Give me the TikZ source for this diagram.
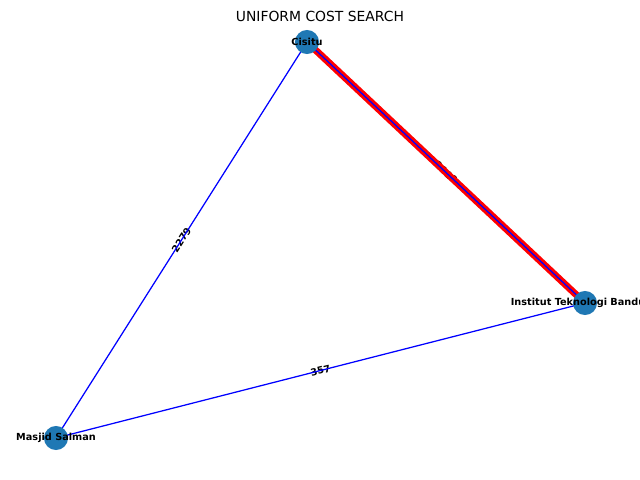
\documentclass[tikz,border=0pt]{standalone}
\usepackage{fontspec}
\setmainfont{DejaVu Sans}
\pgfdeclarelayer{lbl}
\pgfdeclarelayer{edge}
\pgfsetlayers{lbl,edge,main}
\definecolor{nxblue}{HTML}{1F78B4}
\begin{document}
\begin{tikzpicture}[x=0.72pt,y=-0.72pt,
  place/.style={circle,fill=nxblue,draw=none,minimum size=17.3pt,inner sep=0pt},
  nlabel/.style={font=\fontsize{7}{8}\selectfont\bfseries,text=black,inner sep=0pt},
  elabel/.style={font=\fontsize{7}{8}\selectfont\bfseries,text=black,inner sep=0pt,sloped,midway},
  edgeline/.style={draw=blue,line width=0.9pt},
  pathline/.style={draw=red,line width=5pt}]
\useasboundingbox (0,0) rectangle (640,480);
\clip (0,0) rectangle (640,480);
\node[font=\fontsize{10}{12}\selectfont] (title) at (320,16) {UNIFORM COST SEARCH};
\node[place,label={[nlabel]center:Cisitu}] (cis) at (307,42) {};
\node[place,label={[nlabel]center:Institut Teknologi Bandung}] (itb) at (585,303) {};
\node[place,label={[nlabel]center:Masjid Salman}] (ms) at (56,438) {};
\begin{pgfonlayer}{lbl}
\path (cis.center) -- node[elabel] (l1) {2118} (itb.center);
\path (ms.center) -- node[elabel] (l2) {2279} (cis.center);
\path (ms.center) -- node[elabel] (l3) {357} (itb.center);
\end{pgfonlayer}
\begin{pgfonlayer}{edge}
\draw[pathline] (cis.center) -- (itb.center);
\draw[edgeline] (cis.center) -- (itb.center);
\draw[edgeline] (ms.center) -- (cis.center);
\draw[edgeline] (ms.center) -- (itb.center);
\end{pgfonlayer}
\end{tikzpicture}
\end{document}
